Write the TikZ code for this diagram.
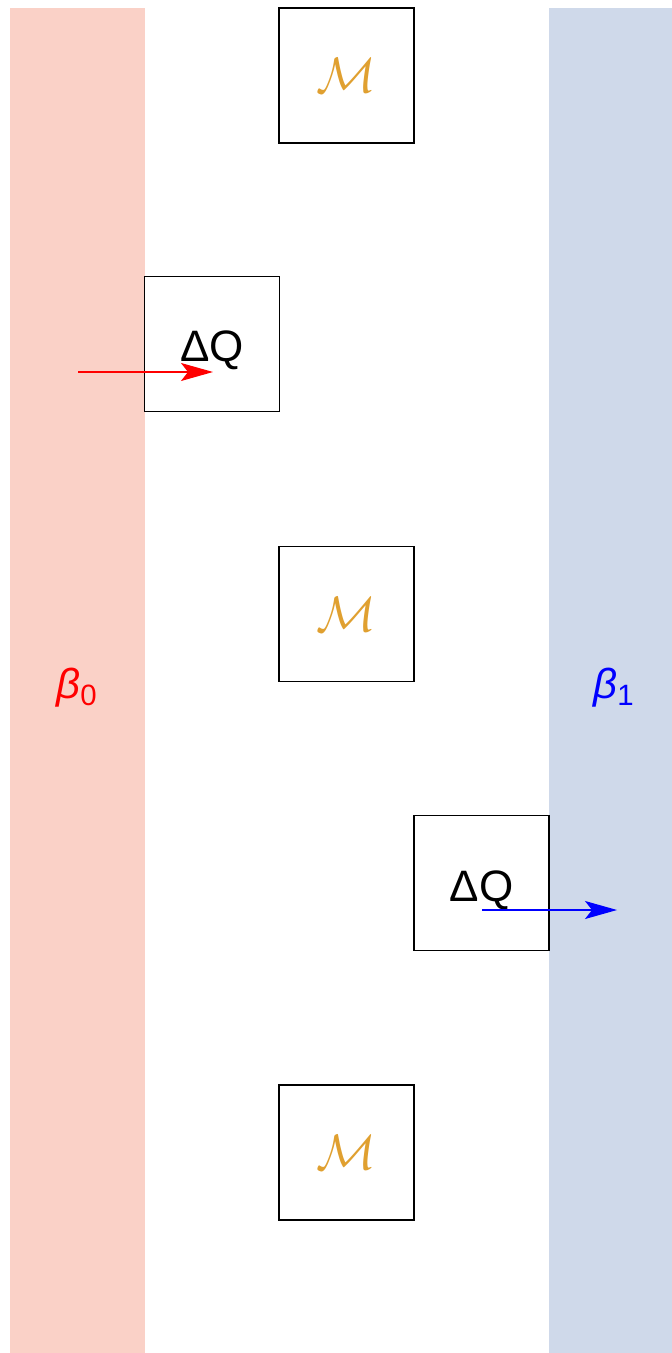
\documentclass[tikz,border=0pt]{standalone}
\usepackage{fontspec}
\setmainfont{Liberation Sans}
\usetikzlibrary{arrows.meta}
\definecolor{hotbg}{HTML}{FAD1C7}
\definecolor{coldbg}{HTML}{CFD9EA}
\definecolor{machine}{HTML}{E0A030}

\begin{document}
\begin{tikzpicture}[x=0.5pt, y=-0.5pt,
  cell/.style={draw, line width=0.6pt, fill=white, minimum size=67.5pt, inner sep=0pt},
  engine/.style={cell, text=machine, font=\fontsize{24}{28}\selectfont},
  packet/.style={cell, font=\fontsize{22}{26}\selectfont, text height=18pt, text depth=0pt},
  temp/.style={font=\fontsize{21}{25}\selectfont},
  heat/.style={line width=0.6pt, -{Stealth[length=16pt, width=9pt, inset=3.5pt]}}]
  \useasboundingbox (0,0) rectangle (672,1353);

  % Reservoirs
  \fill[hotbg] (10,8) rectangle (145,1353);
  \fill[coldbg] (549,8) rectangle (672,1353);
  \node[temp, text=red] (hot) at (77,688) {\textit{β}\textsubscript{0}};
  \node[temp, text=blue] (cold) at (614,688) {\textit{β}\textsubscript{1}};

  % Machine and heat packets
  \node[engine] (m1) at (346.5,75.5) {$\mathcal{M}$};
  \node[packet] (q1) at (212,344) {ΔQ};
  \node[engine] (m2) at (346.5,614) {$\mathcal{M}$};
  \node[packet] (q2) at (481.5,883) {ΔQ};
  \node[engine] (m3) at (346.5,1152.5) {$\mathcal{M}$};

  % Heat flow
  \coordinate (inflow) at (78,372);
  \coordinate (intip) at (213,372);
  \coordinate (outflow) at (482,910);
  \coordinate (outtip) at (617,910);
  \draw[heat, red] (inflow) -- (intip);
  \draw[heat, blue] (outflow) -- (outtip);
\end{tikzpicture}
\end{document}
